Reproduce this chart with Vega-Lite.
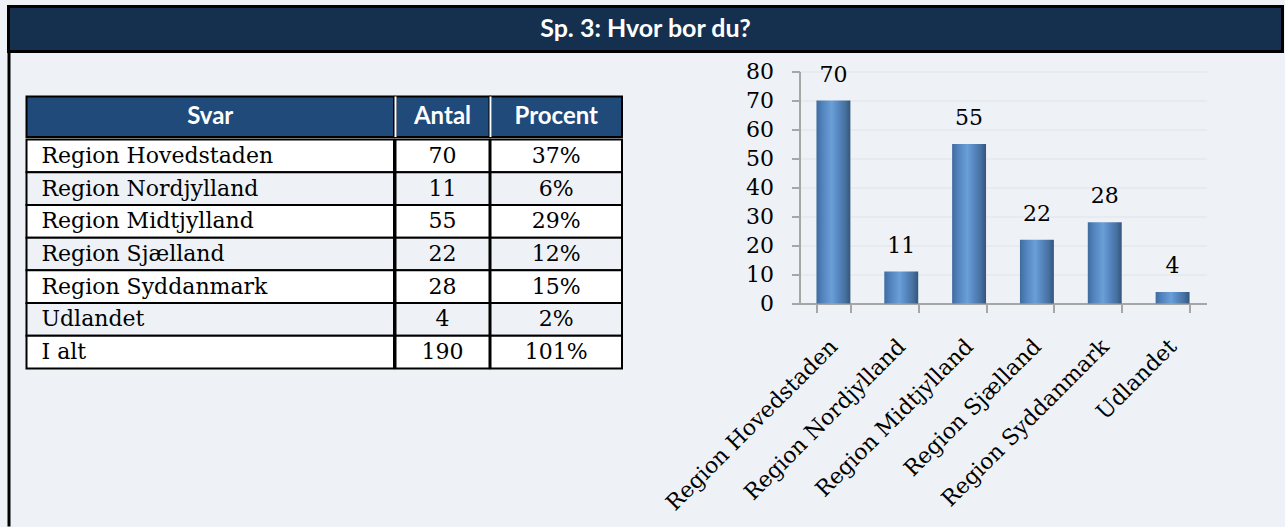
{
  "$schema": "https://vega.github.io/schema/vega-lite/v6.json",
  "background": "#eef2f6",
  "padding": {"left": 6.5, "top": 4.5, "right": 0, "bottom": 0},
  "config": {"view": {"stroke": null}},
  "datasets": {
    "svar": [
      {"nr": 1, "svar": "Region Hovedstaden", "antal": 70, "procent": "37%"},
      {"nr": 2, "svar": "Region Nordjylland", "antal": 11, "procent": "6%"},
      {"nr": 3, "svar": "Region Midtjylland", "antal": 55, "procent": "29%"},
      {"nr": 4, "svar": "Region Sjælland", "antal": 22, "procent": "12%"},
      {"nr": 5, "svar": "Region Syddanmark", "antal": 28, "procent": "15%"},
      {"nr": 6, "svar": "Udlandet", "antal": 4, "procent": "2%"},
      {"nr": 7, "svar": "I alt", "antal": 190, "procent": "101%"}
    ]
  },
  "spacing": -3,
  "vconcat": [
    {
      "width": 1274,
      "height": 45,
      "view": {"fill": "#14304e", "stroke": "black", "strokeWidth": 3},
      "data": {"values": [{"titel": "Sp. 3: Hvor bor du?"}]},
      "mark": {"type": "text", "font": "Lato", "fontWeight": "bold", "fontSize": 25, "color": "white", "align": "center", "baseline": "middle"},
      "encoding": {"text": {"field": "titel"}}
    },
    {
      "spacing": 0,
      "hconcat": [
        {"width": 1, "height": 472, "view": {"fill": "black", "stroke": "black", "strokeWidth": 2}, "data": {"values": []}, "mark": "point"},
        {"width": 14.5, "height": 1, "data": {"values": []}, "mark": "point"},
        {
          "spacing": -4,
          "vconcat": [
            {"width": 590, "height": 43, "data": {"values": []}, "mark": "point"},
            {
              "spacing": -4,
              "hconcat": [
                {
                  "width": 367.5, "height": 40.5,
                  "view": {"fill": "#1f4a7a", "stroke": "black", "strokeWidth": 2},
                  "data": {"values": [{"kol": "Svar"}]},
                  "mark": {"type": "text", "font": "Lato", "fontWeight": "bold", "fontSize": 24, "color": "white", "baseline": "middle"},
                  "encoding": {"text": {"field": "kol"}}
                },
                {
                  "width": 94, "height": 40.5,
                  "view": {"fill": "#1f4a7a", "stroke": "black", "strokeWidth": 2},
                  "data": {"values": [{"kol": "Antal"}]},
                  "layer": [
                    {"mark": {"type": "rule", "color": "white", "strokeWidth": 2}, "encoding": {"x": {"datum": 0, "type": "quantitative", "scale": {"domain": [0, 1]}, "axis": null}}},
                    {"mark": {"type": "text", "font": "Lato", "fontWeight": "bold", "fontSize": 24, "color": "white", "baseline": "middle"}, "encoding": {"text": {"field": "kol"}}}
                  ]
                },
                {
                  "width": 131.5, "height": 40.5,
                  "view": {"fill": "#1f4a7a", "stroke": "black", "strokeWidth": 2},
                  "data": {"values": [{"kol": "Procent"}]},
                  "layer": [
                    {"mark": {"type": "rule", "color": "white", "strokeWidth": 2}, "encoding": {"x": {"datum": 0, "type": "quantitative", "scale": {"domain": [0, 1]}, "axis": null}}},
                    {"mark": {"type": "text", "font": "Lato", "fontWeight": "bold", "fontSize": 24, "color": "white", "baseline": "middle"}, "encoding": {"text": {"field": "kol"}}}
                  ]
                }
              ]
            },
            {
              "spacing": -4,
              "hconcat": [
                {
                  "width": 367.5, "height": 229,
                  "data": {"name": "svar"},
                  "encoding": {
                    "y": {"field": "svar", "type": "nominal", "sort": {"field": "nr"}, "scale": {"paddingInner": 0, "paddingOuter": 0}, "axis": null},
                    "x": {"datum": 0, "type": "quantitative", "scale": {"domain": [0, 1]}, "axis": null}
                  },
                  "layer": [
                    {"mark": {"type": "rect", "stroke": "black", "strokeWidth": 2}, "encoding": {"x2": {"datum": 1}, "color": {"condition": {"test": "datum.nr % 2 == 0", "value": "#eef2f6"}, "value": "white"}}},
                    {"mark": {"type": "text", "font": "DejaVu Serif", "fontSize": 22, "align": "left", "dx": 15, "color": "black", "baseline": "middle"}, "encoding": {"text": {"field": "svar"}}}
                  ]
                },
                {
                  "width": 94, "height": 229,
                  "data": {"name": "svar"},
                  "encoding": {
                    "y": {"field": "svar", "type": "nominal", "sort": {"field": "nr"}, "scale": {"paddingInner": 0, "paddingOuter": 0}, "axis": null}
                  },
                  "layer": [
                    {"mark": {"type": "rect", "stroke": "black", "strokeWidth": 2}, "encoding": {"x": {"datum": 0, "type": "quantitative", "scale": {"domain": [0, 1]}, "axis": null}, "x2": {"datum": 1}, "color": {"condition": {"test": "datum.nr % 2 == 0", "value": "#eef2f6"}, "value": "white"}}},
                    {"mark": {"type": "text", "font": "DejaVu Serif", "fontSize": 22, "color": "black", "baseline": "middle"}, "encoding": {"text": {"field": "antal"}}}
                  ]
                },
                {
                  "width": 131.5, "height": 229,
                  "data": {"name": "svar"},
                  "encoding": {
                    "y": {"field": "svar", "type": "nominal", "sort": {"field": "nr"}, "scale": {"paddingInner": 0, "paddingOuter": 0}, "axis": null}
                  },
                  "layer": [
                    {"mark": {"type": "rect", "stroke": "black", "strokeWidth": 2}, "encoding": {"x": {"datum": 0, "type": "quantitative", "scale": {"domain": [0, 1]}, "axis": null}, "x2": {"datum": 1}, "color": {"condition": {"test": "datum.nr % 2 == 0", "value": "#eef2f6"}, "value": "white"}}},
                    {"mark": {"type": "text", "font": "DejaVu Serif", "fontSize": 22, "color": "black", "baseline": "middle"}, "encoding": {"text": {"field": "procent"}}}
                  ]
                }
              ]
            }
          ]
        },
        {"width": 38, "height": 1, "data": {"values": []}, "mark": "point"},
        {
          "spacing": 0,
          "vconcat": [
            {"width": 300, "height": 6.5, "data": {"values": []}, "mark": "point"},
            {
              "width": 407, "height": 232,
              "data": {"name": "svar"},
              "transform": [{"filter": "datum.nr <= 6"}],
              "encoding": {
                "x": {
                  "field": "svar", "type": "nominal", "sort": null,
                  "scale": {"paddingInner": 0.5, "paddingOuter": 0.25},
                  "axis": {
                    "title": null, "labelAngle": -45, "labelAlign": "right", "labelBaseline": "middle",
                    "labelFont": "DejaVu Serif", "labelFontSize": 22, "labelColor": "black", "labelPadding": 30,
                    "labelLimit": 400, "tickBand": "extent", "tickSize": 9, "tickColor": "#a6a6a6", "tickWidth": 2,
                    "domainColor": "#a6a6a6", "domainWidth": 2, "grid": false
                  }
                },
                "y": {
                  "field": "antal", "type": "quantitative",
                  "scale": {"domain": [0, 80]},
                  "axis": {
                    "title": null, "values": [0, 10, 20, 30, 40, 50, 60, 70, 80],
                    "labelFont": "DejaVu Serif", "labelFontSize": 22, "labelColor": "black", "labelPadding": 18,
                    "tickSize": 8, "tickColor": "#a6a6a6", "tickWidth": 2, "domainColor": "#a6a6a6", "domainWidth": 2,
                    "grid": true, "gridColor": "#e0e4ea", "gridWidth": 1
                  }
                }
              },
              "layer": [
                {
                  "mark": {
                    "type": "bar",
                    "color": {
                      "gradient": "linear", "x1": 0, "y1": 0, "x2": 1, "y2": 0,
                      "stops": [
                        {"offset": 0, "color": "#3f6b9e"},
                        {"offset": 0.15, "color": "#4f80ba"},
                        {"offset": 0.45, "color": "#6b9fd8"},
                        {"offset": 0.6, "color": "#5a8cc6"},
                        {"offset": 0.85, "color": "#46709f"},
                        {"offset": 1, "color": "#34557c"}
                      ]
                    }
                  }
                },
                {
                  "mark": {"type": "text", "baseline": "bottom", "dy": -14, "font": "DejaVu Serif", "fontSize": 22, "color": "black"},
                  "encoding": {"text": {"field": "antal"}}
                }
              ]
            }
          ]
        }
      ]
    }
  ]
}
